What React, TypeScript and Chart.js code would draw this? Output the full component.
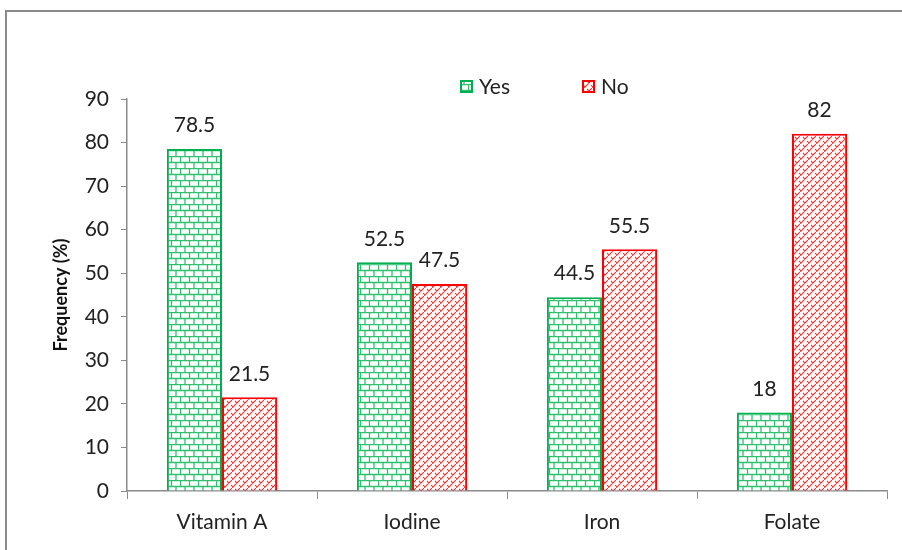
import React, { useEffect, useRef } from "react";
import { Chart, registerables } from "chart.js";

Chart.register(...registerables);

const categories = ["Vitamin A", "Iodine", "Iron", "Folate"];
const yesValues = [78.5, 52.5, 44.5, 18];
const noValues = [21.5, 47.5, 55.5, 82];
const seriesNames = ["Yes", "No"];

const GREEN = "#00B050";
const RED = "#FF0000";
const FONT = "Lato, 'Liberation Sans', sans-serif";
const FS = 21;

function brickPattern(): CanvasPattern | string {
  const c = document.createElement("canvas");
  c.width = 18;
  c.height = 12;
  const g = c.getContext("2d");
  if (!g) return GREEN;
  g.fillStyle = "#ffffff";
  g.fillRect(0, 0, 18, 12);
  g.strokeStyle = "#2fbf6f";
  g.lineWidth = 1.3;
  g.beginPath();
  g.moveTo(0, 0.5); g.lineTo(18, 0.5);
  g.moveTo(0, 6.5); g.lineTo(18, 6.5);
  g.moveTo(0.5, 0); g.lineTo(0.5, 6);
  g.moveTo(9.5, 0); g.lineTo(9.5, 6);
  g.moveTo(5, 6); g.lineTo(5, 12);
  g.moveTo(14, 6); g.lineTo(14, 12);
  g.stroke();
  return g.createPattern(c, "repeat") || GREEN;
}

function hatchPattern(): CanvasPattern | string {
  const c = document.createElement("canvas");
  c.width = 8;
  c.height = 8;
  const g = c.getContext("2d");
  if (!g) return RED;
  g.fillStyle = "#ffffff";
  g.fillRect(0, 0, 8, 8);
  g.strokeStyle = "#ff3a3a";
  g.lineWidth = 1.2;
  g.beginPath();
  g.moveTo(-1, 9); g.lineTo(9, -1);
  g.moveTo(3, 1); g.lineTo(5, 3);
  g.moveTo(-1, 5); g.lineTo(1, 7);
  g.moveTo(7, 5); g.lineTo(9, 7);
  g.stroke();
  return g.createPattern(c, "repeat") || RED;
}

export default function App() {
  const ref = useRef<HTMLCanvasElement>(null);

  useEffect(() => {
    if (!ref.current) return;
    const greenFill = brickPattern();
    const redFill = hatchPattern();

    const framePlugin = {
      id: "frame",
      beforeDraw(chart: any) {
        const ctx = chart.ctx;
        ctx.save();
        ctx.fillStyle = "#ffffff";
        ctx.fillRect(0, 0, chart.width, chart.height);
        ctx.strokeStyle = "#8a8a8a";
        ctx.lineWidth = 2;
        ctx.strokeRect(6, 11, 2000, 2000);
        ctx.restore();
      },
    };

    const labelsPlugin = {
      id: "valueLabels",
      afterDatasetsDraw(chart: any) {
        const ctx = chart.ctx;
        ctx.save();
        ctx.font = `${FS}px ${FONT}`;
        ctx.fillStyle = "#222";
        ctx.textAlign = "center";
        ctx.textBaseline = "bottom";
        chart.data.datasets.forEach((ds: any, i: number) => {
          const meta = chart.getDatasetMeta(i);
          meta.data.forEach((bar: any, j: number) => {
            ctx.fillText(String(ds.data[j]), bar.x, bar.y - 13);
          });
        });
        ctx.restore();
      },
    };

    const legendPlugin = {
      id: "customLegend",
      afterDraw(chart: any) {
        const ctx = chart.ctx;
        const items = [
          { x: 461, fill: greenFill, stroke: GREEN, text: seriesNames[0] },
          { x: 583, fill: redFill, stroke: RED, text: seriesNames[1] },
        ];
        ctx.save();
        ctx.font = `${FS}px ${FONT}`;
        ctx.textBaseline = "middle";
        items.forEach((it) => {
          ctx.fillStyle = it.fill;
          ctx.fillRect(it.x, 81, 11, 11);
          ctx.strokeStyle = it.stroke;
          ctx.lineWidth = 2;
          ctx.strokeRect(it.x, 81, 11, 11);
          ctx.fillStyle = "#222";
          ctx.fillText(it.text, it.x + 18, 87);
        });
        ctx.restore();
      },
    };

    const chart = new Chart(ref.current, {
      type: "bar",
      data: {
        labels: categories,
        datasets: [
          {
            label: seriesNames[0],
            data: yesValues,
            backgroundColor: greenFill as any,
            borderColor: GREEN,
            borderWidth: 2,
            categoryPercentage: 0.58,
            barPercentage: 1,
          },
          {
            label: seriesNames[1],
            data: noValues,
            backgroundColor: redFill as any,
            borderColor: RED,
            borderWidth: 2,
            categoryPercentage: 0.58,
            barPercentage: 1,
          },
        ],
      },
      options: {
        responsive: false,
        animation: false,
        layout: { padding: { top: 99, right: 15, left: 46, bottom: 0 } },
        plugins: {
          legend: { display: false },
          tooltip: { enabled: false },
          title: { display: false },
        },
        scales: {
          x: {
            offset: true,
            grid: {
              offset: true,
              drawOnChartArea: false,
              drawTicks: true,
              tickLength: 8,
              color: "#8a8a8a",
            },
            border: { color: "#8a8a8a", width: 1.5 },
            ticks: {
              font: { family: FONT, size: FS },
              color: "#222",
              padding: 11,
              maxRotation: 0,
            },
            afterFit(scale: any) {
              scale.height = 59;
            },
          },
          y: {
            min: 0,
            max: 90,
            ticks: {
              stepSize: 10,
              font: { family: FONT, size: FS },
              color: "#222",
              padding: 12,
            },
            grid: {
              drawOnChartArea: false,
              drawTicks: true,
              tickLength: 6,
              color: "#8a8a8a",
            },
            border: { color: "#8a8a8a", width: 1.5 },
            title: {
              display: true,
              text: "Frequency (%)",
              font: { family: FONT, size: 18, weight: "bold" },
              color: "#111",
              padding: { top: 4, bottom: 0 },
            },
            afterFit(scale: any) {
              scale.width = 127 - 46;
            },
          },
        },
      },
      plugins: [framePlugin, labelsPlugin, legendPlugin],
    });
    return () => chart.destroy();
  }, []);

  return (
    <div style={{ position: "fixed", left: 0, top: 0, width: 902, height: 550 }}>
      <canvas ref={ref} width={902} height={550} style={{ width: 902, height: 550 }} />
    </div>
  );
}
